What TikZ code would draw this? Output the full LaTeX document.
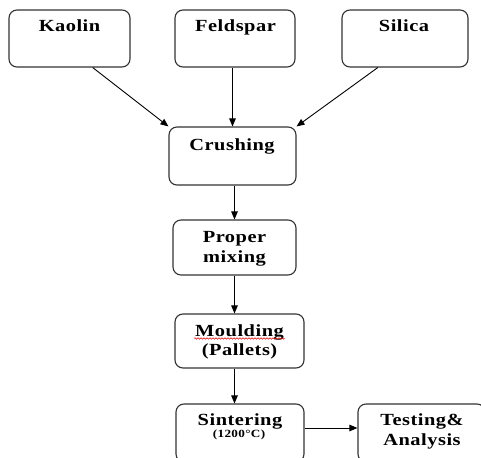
\documentclass[tikz,border=0pt]{standalone}
\usepackage{fontspec}
\newfontfamily\lbl{Liberation Serif}[FakeStretch=1.2,LetterSpace=3]
\usetikzlibrary{arrows.meta,calc,decorations.pathmorphing}

\tikzset{
  stage/.style={draw=black!80, line width=1.1pt, rounded corners=8pt,
    minimum height=#1, inner sep=0pt},
  stage/.default=57pt,
  caption/.style={anchor=base, align=center, font=\lbl\bfseries\fontsize{17}{20}\selectfont, inner sep=0pt},
  small/.style={anchor=base, font=\lbl\bfseries\fontsize{11}{12}\selectfont, inner sep=0pt},
  flow/.style={line width=0.9pt, -{Triangle[length=8pt,width=6.5pt]}},
}

\begin{document}
\begin{tikzpicture}[x=1pt,y=-1pt]
  \useasboundingbox (0,0) rectangle (481,457);
  \clip (0,0) rectangle (481,457);

  % raw materials
  \node[stage, minimum width=121pt] (kaolin)   at (69.5,38.5) {};
  \node[stage, minimum width=120pt] (feldspar) at (235,38.5) {};
  \node[stage, minimum width=126pt] (silica)   at (405,38.5) {};
  \node[caption] (tk) at (69.5,32) {Kaolin};
  \node[caption] (tf) at (235.5,32) {Feldspar};
  \node[caption] (ts) at (404,32) {Silica};

  % process chain
  \node[stage=58pt, minimum width=127pt] (crushing) at (232.5,156) {};
  \node[caption] (tc) at (232,150) {Crushing};

  \node[stage=55pt, minimum width=123pt] (mixing) at (234.5,247.5) {};
  \node[caption] (tm1) at (234.5,242) {Proper};
  \node[caption] (tm2) at (234.5,262) {mixing};

  \node[stage=54pt, minimum width=129pt] (moulding) at (239.5,341) {};
  \node[caption] (tp1) at (239.5,336) {Moulding};
  \node[caption] (tp2) at (239.5,355) {(Pallets)};
  \draw[red!85!black, line width=0.5pt, decorate,
        decoration={snake, amplitude=0.8pt, segment length=3pt}]
    (194,338.5) -- (285,338.5);

  \node[stage=58pt, minimum width=128pt] (sintering) at (240,433) {};
  \node[caption] (tsn) at (240,425) {Sintering};
  \node[small] (tt) at (239,437.5) {(1200°C)};

  \node[stage=58pt, minimum width=127pt] (testing) at (421.5,433) {};
  \node[caption] (tt1) at (422,425) {Testing\&};
  \node[caption] (tt2) at (422,445) {Analysis};

  % connectors
  \draw[flow] ($(kaolin.south west)!0.69!(kaolin.south east)$) -- (crushing.north west);
  \draw[flow] (feldspar.south -| crushing.north) -- (crushing.north);
  \draw[flow] ($(silica.south west)!0.286!(silica.south east)$) -- (crushing.north east);
  \draw[flow] (crushing.south -| mixing.north) -- (mixing.north);
  \draw[flow] (mixing.south) -- (mixing.south |- moulding.north);
  \draw[flow] (mixing.south |- moulding.south) -- (mixing.south |- sintering.north);
  \draw[flow] ([yshift=5pt]sintering.east) -- ([yshift=5pt]sintering.east -| testing.west);
\end{tikzpicture}
\end{document}
